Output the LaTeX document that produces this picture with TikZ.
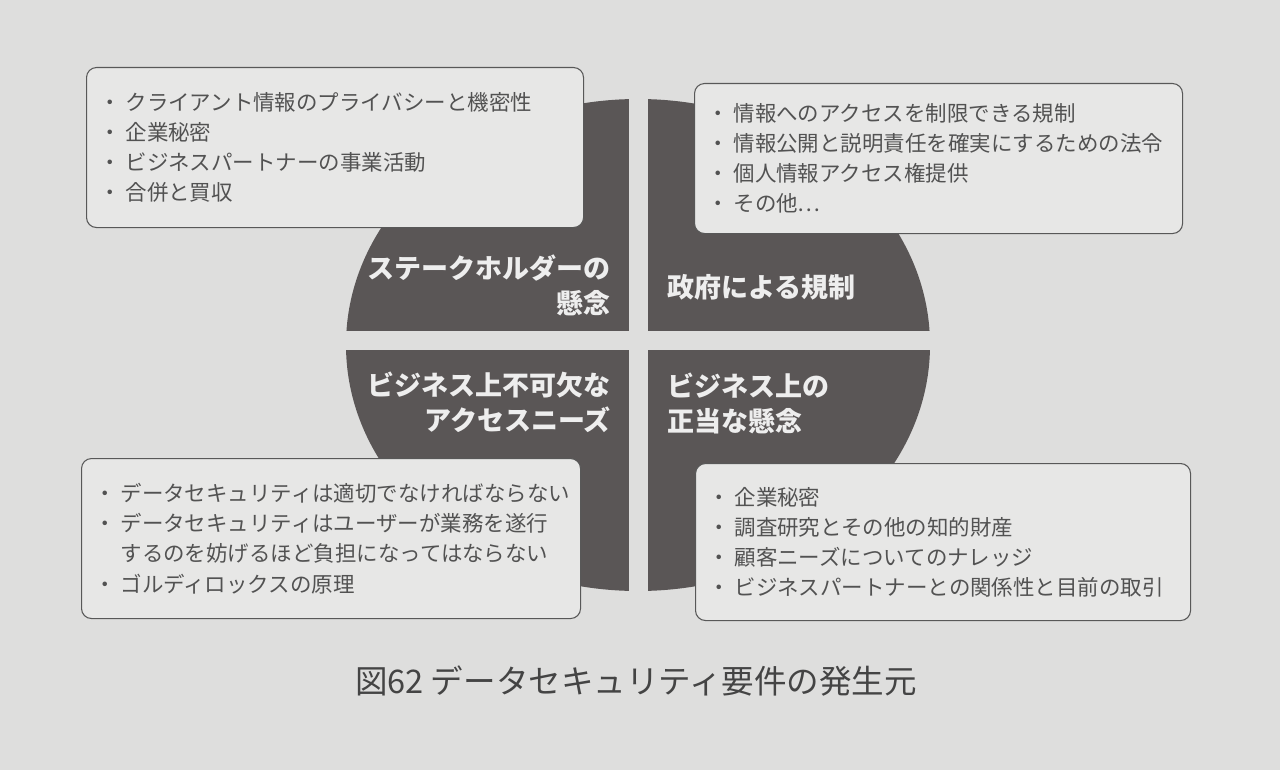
\documentclass[tikz,border=0pt]{standalone}
\usepackage{fontspec}
\usepackage{xcolor}
\newfontfamily\jpfont{Noto Sans CJK JP}

\definecolor{pagebg}{RGB}{222,222,221}
\definecolor{boxfill}{RGB}{231,231,230}
\definecolor{boxline}{RGB}{88,88,88}
\definecolor{boxtext}{RGB}{82,82,82}
\definecolor{piefill}{RGB}{90,86,86}
\definecolor{quadtext}{RGB}{238,238,238}
\definecolor{captext}{RGB}{68,68,68}

\newcommand{\bul}{\makebox[23.25pt][c]{・}}
\newcommand{\cnt}{\makebox[23.25pt]{}}

\begin{document}
\begin{tikzpicture}[x=0.75pt,y=0.75pt,yscale=-1,xscale=1,
  listbox/.style={draw=boxline, fill=boxfill, rounded corners=7.5pt, line width=0.8pt,
    anchor=north west, inner xsep=6pt, inner ysep=0pt, align=left, text=boxtext,
    font=\jpfont\fontsize{16.1pt}{22.6pt}\selectfont},
  quadlabel/.style={text=quadtext, inner sep=0pt,
    font=\jpfont\bfseries\fontsize{20.25pt}{26.25pt}\selectfont}]
\useasboundingbox (0,0) rectangle (1280,770);
\fill [pagebg] (0,0) rectangle (1280,770);

%Ellipse [id:pie]
\fill [piefill] (638,345) ellipse [x radius=292, y radius=246];
%Gaps between quarters
\fill [pagebg] (629,80) rectangle (648,610);
\fill [pagebg] (330,331) rectangle (945,350);

% Text Node
\node (stake) [quadlabel, anchor=east, align=right] at (611,285) {ステークホルダーの\\懸念};
% Text Node
\node (gov) [quadlabel, anchor=west, align=left] at (667,287) {政府による規制};
% Text Node
\node (need) [quadlabel, anchor=east, align=right] at (611,402) {ビジネス上不可欠な\\アクセスニーズ};
% Text Node
\node (legit) [quadlabel, anchor=west, align=left] at (667,403) {ビジネス上の\\正当な懸念};

% Text Box
\node (stakelist) [listbox, text width=360.75pt, minimum height=120pt] at (86,67)
  {\bul クライアント情報のプライバシーと機密性\\
   \bul 企業秘密\\
   \bul ビジネスパートナーの事業活動\\
   \bul 合併と買収};
% Text Box
\node (govlist) [listbox, text width=354pt, minimum height=112.5pt] at (694,83)
  {\bul 情報へのアクセスを制限できる規制\\
   \bul 情報公開と説明責任を確実にするための法令\\
   \bul 個人情報アクセス権提供\\
   \bul その他…};
% Text Box
\node (needlist) [listbox, text width=362.25pt, minimum height=120pt] at (81,458)
  {\bul データセキュリティは適切でなければならない\\
   \bul データセキュリティはユーザーが業務を遂行\\
   \cnt するのを妨げるほど負担になってはならない\\
   \bul ゴルディロックスの原理};
% Text Box
\node (legitlist) [listbox, text width=359.25pt, minimum height=117.75pt] at (695,463)
  {\bul 企業秘密\\
   \bul 調査研究とその他の知的財産\\
   \bul 顧客ニーズについてのナレッジ\\
   \bul ビジネスパートナーとの関係性と目前の取引};

% Caption
\node (caption) [text=captext, font=\jpfont\fontsize{24.4pt}{30pt}\selectfont] at (636,681)
  {図62 データセキュリティ要件の発生元};

\end{tikzpicture}
\end{document}
